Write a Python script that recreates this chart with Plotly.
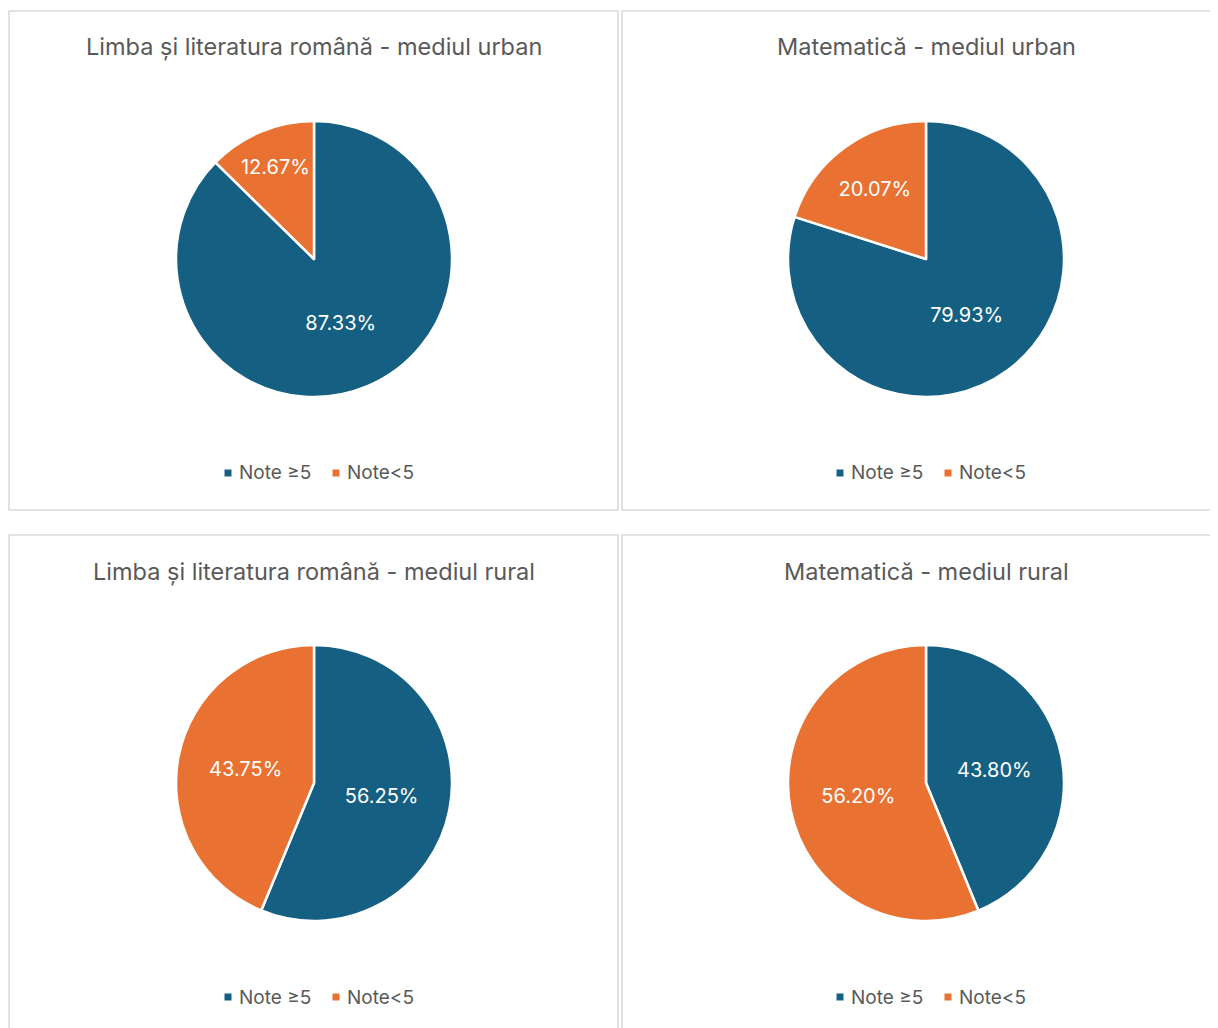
import plotly.graph_objects as go

# page is drawn with an 8px body margin, so the figure is a little smaller
OFF = 8
FW, FH = 1218 - OFF, 1028 - OFF

categories = ["Note ≥5", "Note<5"]
titles = [
    "Limba și literatura română - mediul urban",
    "Matematică - mediul urban",
    "Limba și literatura română - mediul rural",
    "Matematică - mediul rural",
]
lrom_urban = [87.33, 12.67]
mate_urban = [79.93, 20.07]
lrom_rural = [56.25, 43.75]
mate_rural = [43.80, 56.20]

BLUE = "#156082"
ORANGE = "#E97132"
GREY = "#595959"
FONT = "Inter"
colors = [BLUE, ORANGE]

# panel layout in page pixels: (left, top, right, bottom, pie center x, pie center y)
panels = [
    (9, 11, 618, 510, 314, 259),
    (622, 11, 1230, 510, 926, 259),
    (9, 535, 618, 1040, 314, 783),
    (622, 535, 1230, 1040, 926, 783),
]
R = 138


def px(x):
    return (x - OFF) / FW


def py(y):
    return 1 - (y - OFF) / FH


fig = go.Figure()
series = [lrom_urban, mate_urban, lrom_rural, mate_rural]

for i, (vals, (l, t, r, b, cx, cy)) in enumerate(zip(series, panels)):
    fig.add_trace(go.Pie(
        labels=categories, values=vals, sort=False, direction="clockwise", rotation=0,
        marker=dict(colors=colors, line=dict(color="white", width=2.5)),
        texttemplate="%{percent:.2%}", textposition="inside",
        insidetextorientation="horizontal",
        textfont=dict(color="white", size=20, family=FONT),
        domain=dict(x=[px(cx - R), px(cx + R)], y=[py(cy + R), py(cy - R)]),
        showlegend=False, hoverinfo="label+percent",
    ))
    fig.add_shape(type="rect", xref="paper", yref="paper",
                  x0=px(l), x1=px(r), y0=py(b), y1=py(t),
                  line=dict(color="#d9d9d9", width=1.5), layer="below")
    fig.add_annotation(text=titles[i], xref="paper", yref="paper",
                       x=px(cx), y=py(t + 36), xanchor="center", yanchor="middle",
                       showarrow=False, font=dict(size=23.5, color=GREY, family=FONT))

    # legend row below each pie
    ly = cy + 214
    for k, (name, col) in enumerate(zip(categories, colors)):
        mx = cx - 86 + k * 108
        fig.add_shape(type="rect", xref="paper", yref="paper",
                      x0=px(mx - 3.5), x1=px(mx + 3.5), y0=py(ly + 3.5), y1=py(ly - 3.5),
                      fillcolor=col, line_width=0)
        fig.add_annotation(text=name, xref="paper", yref="paper",
                           x=px(mx + 9), y=py(ly), xanchor="left", yanchor="middle",
                           showarrow=False, font=dict(size=19, color=GREY, family=FONT))

fig.update_layout(
    width=FW, height=FH,
    margin=dict(l=0, r=0, t=0, b=0),
    paper_bgcolor="white", plot_bgcolor="white",
    font=dict(family=FONT, color=GREY),
)

fig.write_html("out.html")
